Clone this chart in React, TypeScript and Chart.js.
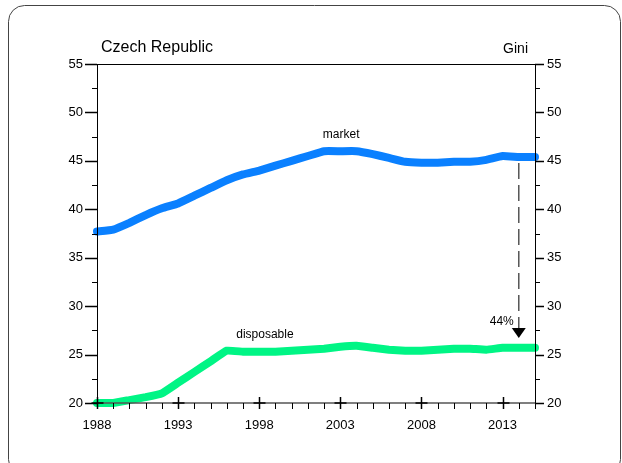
import React, { useEffect, useRef } from "react";
import { Chart, registerables } from "chart.js";

Chart.register(...registerables);

const years = [1988,1989,1990,1991,1992,1993,1994,1995,1996,1997,1998,1999,2000,2001,2002,2003,2004,2005,2006,2007,2008,2009,2010,2011,2012,2013,2014,2015];
const market = [37.7,37.9,38.6,39.4,40.1,40.6,41.4,42.2,43.0,43.6,44.0,44.5,45.0,45.5,46.0,46.0,46.0,45.7,45.3,44.9,44.8,44.8,44.9,44.9,45.1,45.5,45.4,45.4];
const disposable = [20.0,20.0,20.3,20.6,21.0,22.1,23.2,24.3,25.4,25.3,25.3,25.3,25.4,25.5,25.6,25.8,25.9,25.7,25.5,25.4,25.4,25.5,25.6,25.6,25.5,25.7,25.7,25.7];
const xTickLabels = [1988, 1993, 1998, 2003, 2008, 2013];
const yTicks = [20, 25, 30, 35, 40, 45, 50, 55];
const title = "Czech Republic";
const axisTitle = "Gini";
const arrowYear = 2014;
const arrowLabel = "44%";

const FONT = "'Liberation Sans', Arial, sans-serif";

const decorPlugin = {
  id: "decor",
  beforeDraw(chart: any) {
    const ctx = chart.ctx;
    ctx.save();
    ctx.strokeStyle = "#444";
    ctx.lineWidth = 1;
    ctx.beginPath();
    ctx.roundRect(8.5, 5.5, 612, 470, 16);
    ctx.stroke();
    ctx.restore();
  },
  afterDraw(chart: any) {
    const ctx = chart.ctx;
    const a = chart.chartArea;
    const xs = chart.scales.x;
    const ys = chart.scales.y;
    ctx.save();
    ctx.strokeStyle = "#000";
    ctx.lineWidth = 1;
    ctx.beginPath();
    ctx.moveTo(a.left, a.top + 0.5);
    ctx.lineTo(a.right, a.top + 0.5);
    ctx.stroke();
    ctx.beginPath();
    ctx.moveTo(a.left + 0.5, a.top);
    ctx.lineTo(a.left + 0.5, a.bottom);
    ctx.moveTo(a.right + 0.5, a.top);
    ctx.lineTo(a.right + 0.5, a.bottom + 6);
    ctx.stroke();
    for (let v = 20; v <= 55; v += 2.5) {
      const y = Math.round(ys.getPixelForValue(v)) + 0.5;
      const major = v % 5 === 0;
      const lenL = major ? 12 : 5;
      const lenR = major ? 9 : 5;
      ctx.lineWidth = major ? 1.5 : 1;
      ctx.beginPath();
      ctx.moveTo(a.left - lenL, y);
      ctx.lineTo(a.left, y);
      ctx.moveTo(a.right, y);
      ctx.lineTo(a.right + lenR, y);
      ctx.stroke();
    }
    ctx.strokeStyle = "#555";
    ctx.lineWidth = 1.5;
    ctx.beginPath();
    ctx.moveTo(a.left, a.bottom);
    ctx.lineTo(a.right, a.bottom);
    ctx.stroke();
    ctx.strokeStyle = "#000";
    for (let yr = years[0]; yr <= years[years.length - 1]; yr++) {
      const x = Math.round(xs.getPixelForValue(yr)) + 0.5;
      const major = (yr - 1988) % 5 === 0;
      ctx.lineWidth = 1;
      ctx.beginPath();
      if (major) {
        ctx.lineWidth = 1.5;
        ctx.moveTo(x, a.bottom - 6);
        ctx.lineTo(x, a.bottom + 6);
        ctx.moveTo(x - 6, a.bottom);
        ctx.lineTo(x + 6, a.bottom);
      } else {
        ctx.moveTo(x, a.bottom);
        ctx.lineTo(x, a.bottom + 6);
      }
      ctx.stroke();
    }
    ctx.fillStyle = "#000";
    ctx.textBaseline = "middle";
    ctx.font = "16px " + FONT;
    ctx.textAlign = "left";
    ctx.fillText(title, 101, 48);
    ctx.font = "14px " + FONT;
    ctx.textAlign = "right";
    ctx.fillText(axisTitle, 528, 49);
    ctx.font = "12px " + FONT;
    ctx.textAlign = "center";
    ctx.fillText("market", xs.getPixelForValue(2003.05), ys.getPixelForValue(47.75));
    ctx.fillText("disposable", xs.getPixelForValue(1998.35), ys.getPixelForValue(27.1));
    ctx.textAlign = "right";
    const ax = xs.getPixelForValue(arrowYear);
    const mi = years.indexOf(arrowYear);
    ctx.fillText(arrowLabel, ax - 5, ys.getPixelForValue(28.4));
    const yStart = ys.getPixelForValue(market[mi]) + 6;
    const yTip = ys.getPixelForValue(disposable[mi] + 1.0);
    ctx.strokeStyle = "#555";
    ctx.lineWidth = 1.5;
    ctx.setLineDash([16, 6]);
    ctx.beginPath();
    ctx.moveTo(ax, yStart);
    ctx.lineTo(ax, yTip - 8);
    ctx.stroke();
    ctx.setLineDash([]);
    ctx.fillStyle = "#000";
    ctx.beginPath();
    ctx.moveTo(ax - 7, yTip - 10);
    ctx.lineTo(ax + 7, yTip - 10);
    ctx.lineTo(ax, yTip);
    ctx.closePath();
    ctx.fill();
    ctx.restore();
  },
};

export default function App() {
  const ref = useRef<HTMLCanvasElement | null>(null);
  useEffect(() => {
    if (!ref.current) return;
    const chart = new Chart(ref.current, {
      type: "line",
      data: {
        datasets: [
          {
            label: "market",
            data: years.map((y, i) => ({ x: y, y: market[i] })),
            borderColor: "#0A80FF",
            borderWidth: 8,
            pointRadius: 0,
            borderCapStyle: "round",
            borderJoinStyle: "round",
            tension: 0.1,
          },
          {
            label: "disposable",
            data: years.map((y, i) => ({ x: y, y: disposable[i] })),
            borderColor: "#00F585",
            borderWidth: 8,
            pointRadius: 0,
            borderCapStyle: "round",
            borderJoinStyle: "round",
            tension: 0.1,
          },
        ],
      },
      options: {
        responsive: false,
        animation: false,
        events: [],
        clip: false,
        layout: { padding: { top: 64, left: 0, right: 0, bottom: 0 } },
        plugins: { legend: { display: false }, tooltip: { enabled: false } },
        scales: {
          x: {
            type: "linear",
            min: 1988,
            max: 2015,
            border: { display: false },
            grid: { display: false },
            afterBuildTicks: (s: any) => {
              s.ticks = xTickLabels.map((v) => ({ value: v }));
            },
            afterFit: (s: any) => {
              s.height = 60;
            },
            ticks: {
              autoSkip: false,
              maxRotation: 0,
              color: "#000",
              padding: 7,
              font: { family: FONT, size: 13 },
              callback: (v: any) => String(v),
            },
          },
          y: {
            position: "left",
            min: 20,
            max: 55,
            border: { display: false },
            grid: { display: false },
            afterBuildTicks: (s: any) => {
              s.ticks = yTicks.map((v) => ({ value: v }));
            },
            afterFit: (s: any) => {
              s.width = 97;
            },
            ticks: { color: "#000", padding: 6, font: { family: FONT, size: 13 } },
          },
          y2: {
            position: "right",
            min: 20,
            max: 55,
            border: { display: false },
            grid: { display: false },
            afterBuildTicks: (s: any) => {
              s.ticks = yTicks.map((v) => ({ value: v }));
            },
            afterFit: (s: any) => {
              s.width = 87;
            },
            ticks: { color: "#000", padding: 4, font: { family: FONT, size: 13 } },
          },
        },
      },
      plugins: [decorPlugin],
    } as any);
    return () => chart.destroy();
  }, []);
  return (
    <div style={{ position: "fixed", left: 0, top: 0, width: 622, height: 463, background: "#fff" }}>
      <canvas ref={ref} width={622} height={463} />
    </div>
  );
}
